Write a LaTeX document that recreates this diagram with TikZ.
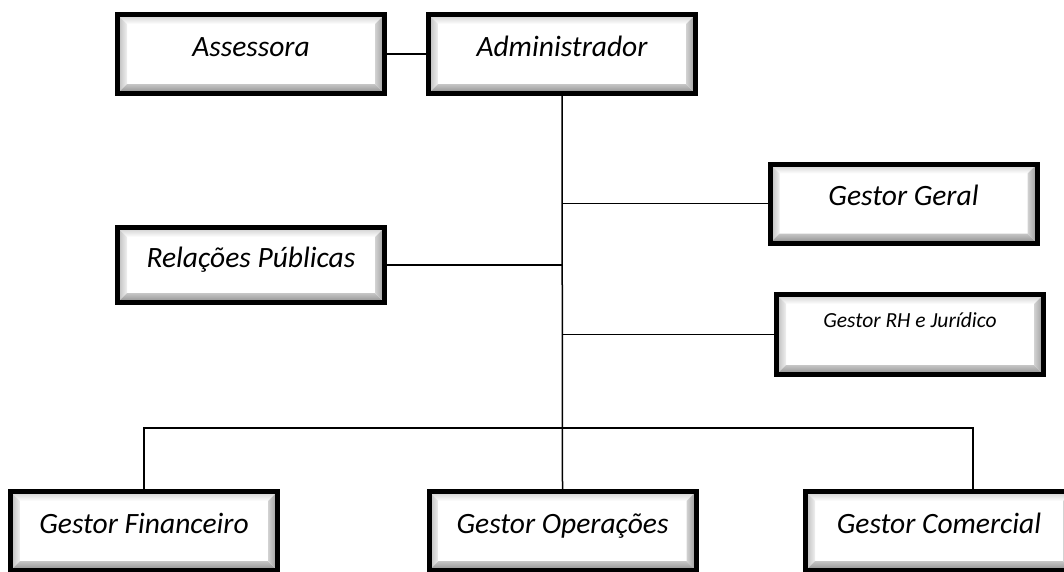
\documentclass[tikz,border=0pt]{standalone}
\usepackage{fontspec}
\setmainfont{Carlito}
\begin{document}
\begin{tikzpicture}[x=1pt,y=-1pt,
  orgbox/.style={draw=black, line width=5pt, fill=white, inner sep=0pt,
    minimum width=267pt, minimum height=79pt, text height=20pt, text depth=16pt,
    font=\fontsize{29.5}{32}\selectfont\itshape,
    path picture={
      \path (path picture bounding box.north west) coordinate (q1)
            (path picture bounding box.north east) coordinate (q2)
            (path picture bounding box.south east) coordinate (q3)
            (path picture bounding box.south west) coordinate (q4);
      \shade[top color=gray!40, bottom color=white]
        (q1) -- (q2) -- ([shift={(-9.5,9.5)}]q2) -- ([shift={(9.5,9.5)}]q1) -- cycle;
      \shade[left color=gray!55, right color=gray!12]
        (q1) -- ([shift={(9.5,9.5)}]q1) -- ([shift={(9.5,-9.5)}]q4) -- (q4) -- cycle;
      \shade[top color=gray!45, bottom color=gray!90]
        (q4) -- ([shift={(9.5,-9.5)}]q4) -- ([shift={(-9.5,-9.5)}]q3) -- (q3) -- cycle;
      \shade[left color=gray!35, right color=gray!80]
        (q2) -- (q3) -- ([shift={(-9.5,-9.5)}]q3) -- ([shift={(-9.5,9.5)}]q2) -- cycle;
    }},
  link/.style={draw=black, line width=1.5pt}]
\useasboundingbox (0,0) rectangle (1064,571);

% top row
\node[orgbox] (ass) at (251,54) {Assessora};
\node[orgbox] (adm) at (562,54) {Administrador};
% side boxes
\node[orgbox] (ger) at (903.5,203.5) {Gestor Geral};
\node[orgbox, minimum height=75pt] (rp) at (251,265) {Relações Públicas};
\node[orgbox, minimum height=80pt, text height=14pt, text depth=28pt,
      font=\fontsize{21.5}{24}\selectfont\itshape] (rh) at (910,334.5) {Gestor RH e Jurídico};
% bottom row
\node[orgbox] (fin) at (144,531) {Gestor Financeiro};
\node[orgbox] (ops) at (562.5,531) {Gestor Operações};
\node[orgbox] (com) at (939,531) {Gestor Comercial};

% connectors
\coordinate (bus) at (562,428);
\coordinate (comtap) at (973,490);
\draw[link] (ass.east) -- (adm.west);
\draw[link] (adm.south) -- (ops.north);
\draw[link] (adm.south |- ger.west) -- (ger.west);
\draw[link] (rp.east) -- (adm.south |- rp.east);
\draw[link] (adm.south |- rh.west) -- (rh.west);
\draw[link] (fin.north) |- (bus) -| (comtap);
\end{tikzpicture}
\end{document}
